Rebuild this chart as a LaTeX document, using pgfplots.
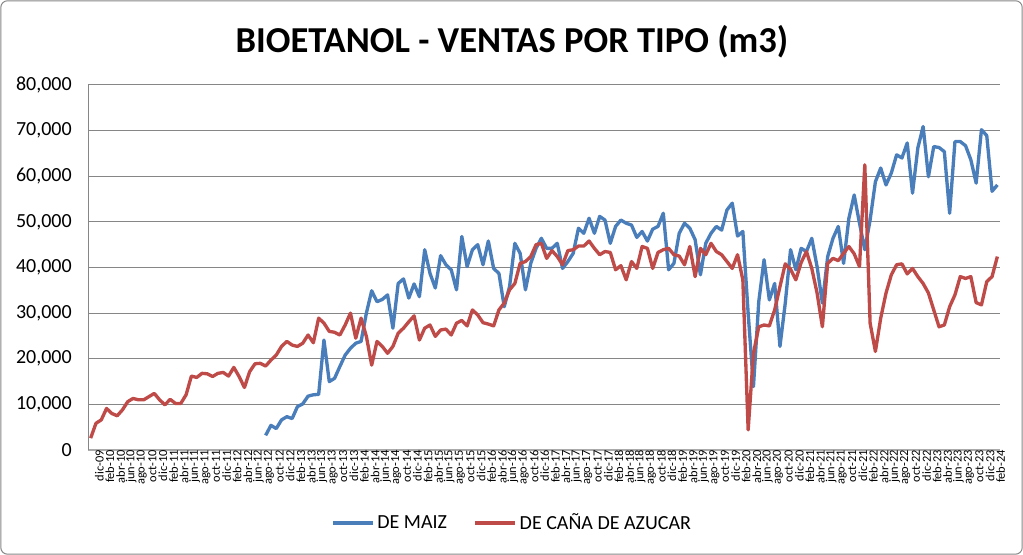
\documentclass[border=0pt]{standalone}
\usepackage{fontspec}
\setmainfont{Carlito}
\usepackage{pgfplots}
\usepackage{pgfplotstable}
\pgfplotsset{compat=1.18}

\definecolor{maiz}{HTML}{4A7EBB}
\definecolor{cana}{HTML}{BE4B48}
\definecolor{rejilla}{HTML}{868686}

% ventas mensuales en m3, dic-09 (i=0) a mar-24 (i=171)
\pgfplotstableread{
i maiz cana
0 nan 2600
1 nan 5850
2 nan 6600
3 nan 9100
4 nan 8000
5 nan 7500
6 nan 8800
7 nan 10600
8 nan 11300
9 nan 11000
10 nan 11000
11 nan 11700
12 nan 12400
13 nan 11000
14 nan 9900
15 nan 11100
16 nan 10200
17 nan 10200
18 nan 12100
19 nan 16200
20 nan 15900
21 nan 16800
22 nan 16700
23 nan 16100
24 nan 16800
25 nan 17000
26 nan 16200
27 nan 18100
28 nan 16100
29 nan 13700
30 nan 17200
31 nan 18900
32 nan 19000
33 3200 18400
34 5400 19700
35 4700 20800
36 6600 22700
37 7300 23800
38 6900 23000
39 9500 22700
40 10100 23400
41 11800 25200
42 12100 23500
43 12200 28900
44 24100 27800
45 15000 26000
46 15700 25800
47 18300 25200
48 20800 27400
49 22300 30000
50 23400 24500
51 23800 28900
52 30000 24900
53 34900 18600
54 32500 23800
55 33000 22700
56 34000 21200
57 26700 22700
58 36500 25600
59 37500 26700
60 33300 28100
61 36400 29400
62 33600 24100
63 43900 26700
64 38700 27400
65 35500 24900
66 42600 26300
67 40600 26500
68 39500 25200
69 35100 27800
70 46800 28400
71 40200 27200
72 43900 30700
73 45000 29600
74 40600 27900
75 45800 27600
76 39800 27200
77 38700 30700
78 31400 32200
79 35800 35100
80 45300 36500
81 43100 40900
82 35100 41300
83 40900 42400
84 44200 45000
85 46400 45300
86 44200 42000
87 44200 43700
88 45300 42400
89 39800 40600
90 41300 43700
91 43100 43900
92 48600 44700
93 47500 44700
94 50800 45800
95 47500 44200
96 51200 42800
97 50400 43500
98 45300 43300
99 49000 39500
100 50400 40400
101 49700 37300
102 49300 41300
103 46600 39800
104 47900 44600
105 45800 44200
106 48400 39800
107 49000 43300
108 51900 43900
109 39500 44200
110 40900 42800
111 47500 42500
112 49700 40600
113 48600 44600
114 46100 38000
115 38400 44200
116 45300 42800
117 47500 45300
118 49000 43500
119 48200 42800
120 52600 41300
121 54100 39800
122 46900 42800
123 47900 37300
124 30000 4400
125 13900 21200
126 32500 27000
127 41700 27400
128 32900 27200
129 36500 30700
130 22700 35800
131 32200 40800
132 43900 39600
133 39500 37300
134 44200 41100
135 43500 43500
136 46400 39800
137 40200 34400
138 32200 27000
139 42400 40900
140 46400 42000
141 49000 41500
142 40900 43100
143 50800 44600
144 55900 43000
145 49700 40200
146 43900 62500
147 50400 27800
148 58800 21600
149 61800 28900
150 58100 34400
151 60700 38400
152 64700 40600
153 64000 40800
154 67300 38600
155 56300 39800
156 66200 38000
157 70900 36500
158 59900 34400
159 66500 30700
160 66300 27000
161 65400 27400
162 51900 31400
163 67600 34000
164 67600 38000
165 66700 37600
166 63600 38000
167 58500 32300
168 70200 31800
169 68900 36900
170 56700 38000
171 58100 42400
}\ventas

\begin{document}
\begin{tikzpicture}
\path[use as bounding box] (0,0) rectangle (767.25pt,416.25pt);
\draw[rejilla, line width=0.75pt, rounded corners=5pt] (0.6pt,0.6pt) rectangle (766.65pt,415.65pt);
\node[font=\fontsize{27.4}{32}\selectfont\bfseries] at (384pt,384.75pt) {BIOETANOL - VENTAS POR TIPO (m3)};
\begin{axis}[
    at={(66pt,78.75pt)}, anchor=south west,
    width=684pt, height=273.75pt, scale only axis,
    xmin=-0.5, xmax=171.5,
    ymin=0, ymax=80000,
    xtick={0,2,...,170},
    xticklabels={dic-09,feb-10,abr-10,jun-10,ago-10,oct-10,dic-10,feb-11,abr-11,jun-11,ago-11,oct-11,dic-11,feb-12,abr-12,jun-12,ago-12,oct-12,dic-12,feb-13,abr-13,jun-13,ago-13,oct-13,dic-13,feb-14,abr-14,jun-14,ago-14,oct-14,dic-14,feb-15,abr-15,jun-15,ago-15,oct-15,dic-15,feb-16,abr-16,jun-16,ago-16,oct-16,dic-16,feb-17,abr-17,jun-17,ago-17,oct-17,dic-17,feb-18,abr-18,jun-18,ago-18,oct-18,dic-18,feb-19,abr-19,jun-19,ago-19,oct-19,dic-19,feb-20,abr-20,jun-20,ago-20,oct-20,dic-20,feb-21,abr-21,jun-21,ago-21,oct-21,dic-21,feb-22,abr-22,jun-22,ago-22,oct-22,dic-22,feb-23,abr-23,jun-23,ago-23,oct-23,dic-23,feb-24},
    ytick={0,10000,...,80000},
    scaled y ticks=false,
    /pgf/number format/1000 sep={,},
    /pgf/number format/assume math mode=true,
    major tick length=0pt,
    ymajorgrids,
    grid style={rejilla, line width=0.75pt},
    axis x line*=bottom, axis y line*=left,
    axis line style={-},
    y axis line style={rejilla, line width=0.75pt},
    x axis line style={draw=rejilla!70, line width=1.5pt},
    yticklabel style={font=\fontsize{15}{18}\selectfont, inner sep=0pt, xshift=-12pt},
    xticklabel style={font=\fontsize{9.3}{11}\selectfont, rotate=90, anchor=east, inner sep=0pt, yshift=-6.5pt},
    legend columns=2,
    legend style={draw=none, fill=none, at={(0.4655,-0.2)}, anchor=center,
        font=\fontsize{15}{18}\selectfont,
        /tikz/every even column/.append style={column sep=18pt}},
    legend image code/.code={\draw[#1] (0pt,0pt) -- (30pt,0pt);},
]
\addplot[maiz, line width=2.5pt, line join=round] table[x=i, y=maiz] {\ventas};
\addlegendentry{DE MAIZ}
\addplot[cana, line width=2.5pt, line join=round] table[x=i, y=cana] {\ventas};
\addlegendentry{DE CAÑA DE AZUCAR}
\end{axis}
\end{tikzpicture}
\end{document}
